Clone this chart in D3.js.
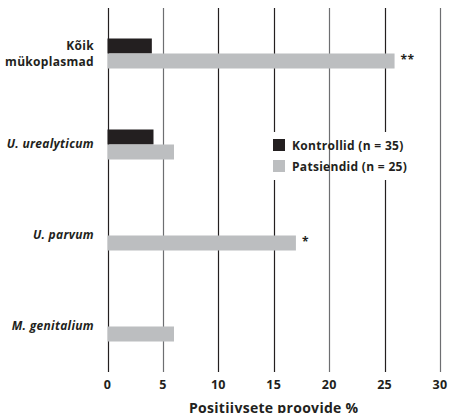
<!DOCTYPE html>
<html>
<head>
<meta charset="utf-8">
<script src="https://cdn.jsdelivr.net/npm/d3@7"></script>
<style>
  body { margin: 0; background: #fff; }
  svg text { font-family: "Open Sans", "Noto Sans", sans-serif; font-weight: 700; fill: #231f20; letter-spacing: 0.3px; }
</style>
</head>
<body>
<div id="chart"></div>
<script>
// data
const categories = ["Kõik mükoplasmad", "U. urealyticum", "U. parvum", "M. genitalium"];
const italicCats = [false, true, true, true];
const controls = [4.0, 4.15, 0, 0];
const patients = [25.9, 6.0, 17.0, 6.0];
const signif = ["**", "", "*", ""];
const xTicks = [0, 5, 10, 15, 20, 25, 30];
const seriesNames = ["Kontrollid (n = 35)", "Patsiendid (n = 25)"];
const seriesColors = ["#231f20", "#bcbec0"];

const width = 450, height = 413;
const margin = { top: 8, right: 10, bottom: 41, left: 107.5 };

const svg = d3.select('#chart').append('svg')
    .attr('width', width)
    .attr('height', height);

const x = d3.scaleLinear().domain([0, 30]).range([margin.left, 440]);
const y = d3.scaleBand().domain(categories).range([margin.top, height - margin.bottom]);
const barH = 15;

// grid lines
const grid = svg.append('g');
grid.selectAll('line')
    .data(xTicks)
    .enter().append('line')
    .attr('x1', d => Math.round(x(d)) + 0.5)
    .attr('x2', d => Math.round(x(d)) + 0.5)
    .attr('y1', margin.top)
    .attr('y2', height - margin.bottom)
    .attr('stroke', d => (d === 5 || d === 20 || d === 30) ? '#6d6e71' : '#231f20')
    .attr('stroke-width', 1.2);

// legend backdrop cuts the grid lines
svg.append('rect')
    .attr('x', 268).attr('y', 132)
    .attr('width', 140).attr('height', 48)
    .attr('fill', '#fff');

// the 20 line runs through the legend in the original
svg.append('line')
    .attr('x1', Math.round(x(20)) + 0.5).attr('x2', Math.round(x(20)) + 0.5)
    .attr('y1', 132).attr('y2', 180)
    .attr('stroke', '#6d6e71').attr('stroke-width', 1.2);

// bars
const bars = svg.append('g');
categories.forEach((c, i) => {
    const cy = y(c) + y.bandwidth() / 2;
    [controls[i], patients[i]].forEach((v, j) => {
        if (v <= 0) return;
        bars.append('rect')
            .attr('x', x(0))
            .attr('y', j === 0 ? cy - barH : cy)
            .attr('width', x(v) - x(0))
            .attr('height', barH)
            .attr('fill', seriesColors[j]);
    });
    if (signif[i]) {
        svg.append('text')
            .attr('x', x(patients[i]) + 6)
            .attr('y', cy + 10)
            .attr('font-size', 12)
            .text(signif[i]);
    }
});

// category labels
categories.forEach((c, i) => {
    const cy = y(c) + y.bandwidth() / 2;
    const t = svg.append('text')
        .attr('text-anchor', 'end')
        .attr('font-size', 12)
        .attr('font-style', italicCats[i] ? 'italic' : 'normal');
    if (i === 0) {
        t.append('tspan').attr('x', 94).attr('y', cy - 4).text('Kõik');
        t.append('tspan').attr('x', 94).attr('y', cy + 12).text('mükoplasmad');
    } else {
        t.attr('x', 94).attr('y', cy + 3.5).text(c);
    }
});

// x axis tick labels
svg.append('g').selectAll('text')
    .data(xTicks)
    .enter().append('text')
    .attr('x', d => x(d))
    .attr('y', 389)
    .attr('text-anchor', 'middle')
    .attr('font-size', 12.5)
    .text(d => d);

svg.append('text')
    .attr('x', (x(0) + x(30)) / 2)
    .attr('y', 412.5)
    .attr('text-anchor', 'middle')
    .attr('font-size', 14)
    .text('Positiivsete proovide %');

// legend
const legend = svg.append('g').attr('transform', 'translate(273,139)');
seriesNames.forEach((s, i) => {
    legend.append('rect')
        .attr('x', 0).attr('y', i * 21)
        .attr('width', 12).attr('height', 12)
        .attr('fill', seriesColors[i]);
    legend.append('text')
        .attr('x', 19).attr('y', i * 21 + 11)
        .attr('font-size', 12)
        .text(s);
});
</script>
</body>
</html>
